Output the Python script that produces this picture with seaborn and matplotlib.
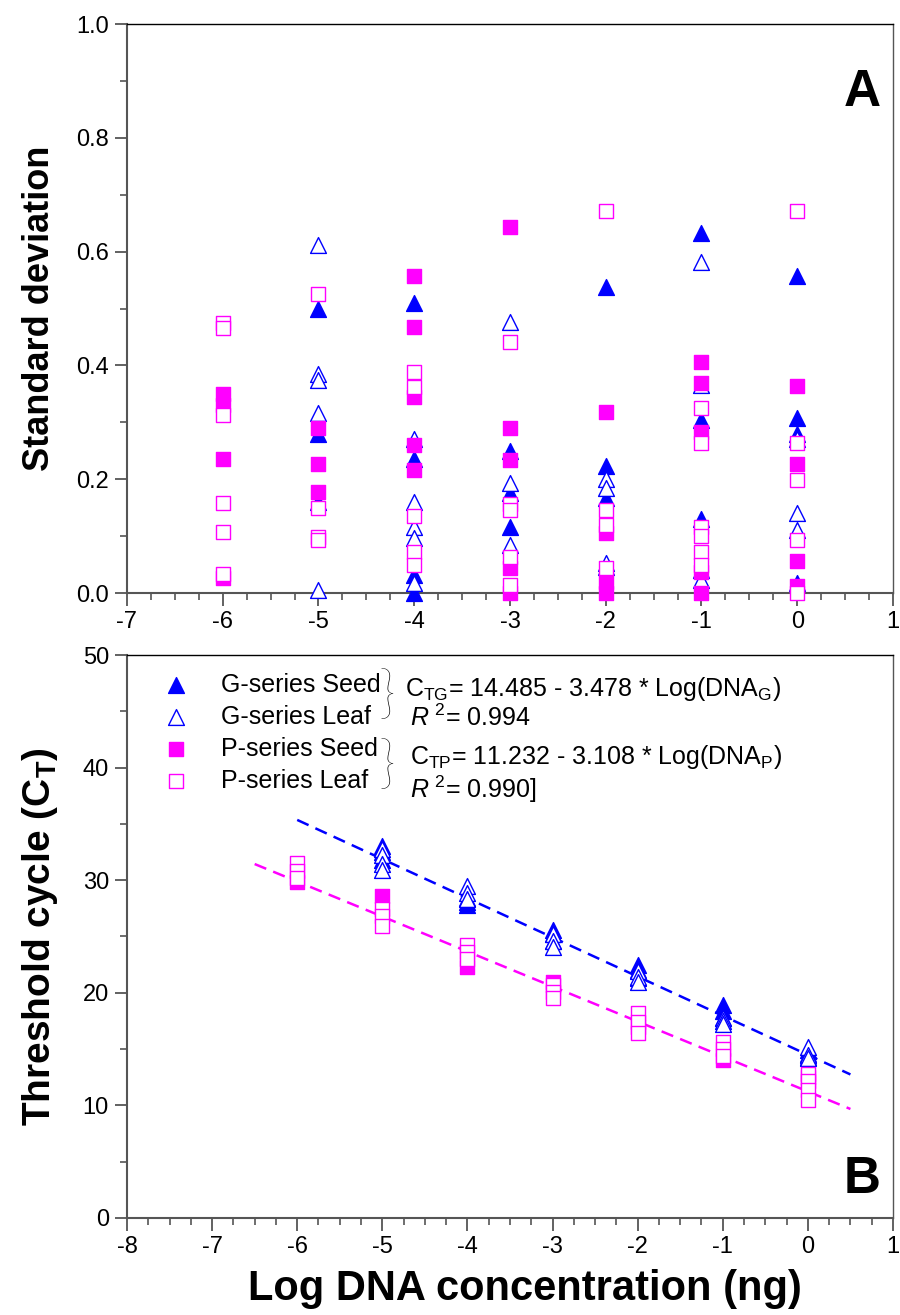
import numpy as np
import pandas as pd
import seaborn as sns
import matplotlib.pyplot as plt
from matplotlib.ticker import MultipleLocator

# ---- panel A: standard deviation of replicate Ct values ----
sd_g_seed = {
    -5: [0.50, 0.28, 0.16],
    -4: [0.51, 0.235, 0.032, 0.0],
    -3: [0.25, 0.176, 0.116],
    -2: [0.538, 0.223, 0.167, 0.045],
    -1: [0.632, 0.304, 0.13, 0.04],
    0: [0.557, 0.307, 0.28, 0.017],
}
sd_g_leaf = {
    -5: [0.612, 0.385, 0.375, 0.316, 0.005],
    -4: [0.27, 0.16, 0.116, 0.097, 0.018],
    -3: [0.476, 0.193, 0.084],
    -2: [0.20, 0.185, 0.052],
    -1: [0.582, 0.365, 0.023],
    0: [0.27, 0.14, 0.11],
}
sd_p_seed = {
    -6: [0.35, 0.33, 0.235, 0.027],
    -5: [0.29, 0.227, 0.178],
    -4: [0.557, 0.468, 0.345, 0.26, 0.216],
    -3: [0.643, 0.29, 0.234, 0.044, 0.0],
    -2: [0.318, 0.105, 0.02, 0.0],
    -1: [0.406, 0.369, 0.283, 0.037, 0.0],
    0: [0.364, 0.227, 0.056, 0.013],
}
sd_p_leaf = {
    -6: [0.475, 0.466, 0.313, 0.158, 0.107, 0.033],
    -5: [0.525, 0.15, 0.099, 0.093],
    -4: [0.389, 0.362, 0.135, 0.072, 0.049],
    -3: [0.441, 0.156, 0.146, 0.063, 0.014],
    -2: [0.671, 0.146, 0.12, 0.044],
    -1: [0.325, 0.264, 0.116, 0.10, 0.072, 0.049],
    0: [0.671, 0.264, 0.199, 0.093, 0.0],
}

# ---- panel B: threshold cycle vs log DNA ----
ct_g_seed = {
    -5: [33.0, 32.5, 31.8],
    -4: [28.4, 28.1, 27.8],
    -3: [25.6, 25.2, 24.6],
    -2: [22.5, 22.0, 21.3],
    -1: [18.9, 18.4, 17.8],
    0: [14.9, 14.6, 14.3],
}
ct_g_leaf = {
    -5: [32.8, 32.2, 31.4, 30.9],
    -4: [29.5, 28.9, 28.3],
    -3: [25.2, 24.6, 24.1],
    -2: [21.9, 21.4, 21.0],
    -1: [17.8, 17.5, 17.2],
    0: [15.2, 14.5, 14.2],
}
ct_p_seed = {
    -6: [29.8],
    -5: [28.6],
    -4: [22.3],
    -3: [21.0],
    -2: [17.0],
    -1: [14.0],
    0: [12.5],
}
ct_p_leaf = {
    -6: [31.5, 30.8, 30.2],
    -5: [27.4, 26.8, 25.9],
    -4: [24.2, 23.6, 23.0],
    -3: [20.7, 20.1, 19.5],
    -2: [18.2, 17.4, 16.4],
    -1: [15.6, 15.0, 14.4],
    0: [12.8, 12.2, 11.4, 10.5],
}

# fitted standard curves (intercept, slope, x-range)
fit_g = (14.485, -3.478, [-6.0, 0.5])
fit_p = (11.232, -3.108, [-6.5, 0.5])

series_names = ["G-series Seed", "G-series Leaf", "P-series Seed", "P-series Leaf"]

BLUE = "#0000FF"
MAGENTA = "#FF00FF"
styles = {
    "G-series Seed": dict(marker="^", color=BLUE, edgecolor=BLUE, s=130),
    "G-series Leaf": dict(marker="^", color="white", edgecolor=BLUE, s=130),
    "P-series Seed": dict(marker="s", color=MAGENTA, edgecolor=MAGENTA, s=100),
    "P-series Leaf": dict(marker="s", color="white", edgecolor=MAGENTA, s=100),
}


def to_long(groups, valname):
    rows = []
    for name, d in zip(series_names, groups):
        for x, vals in d.items():
            for v in vals:
                rows.append({"series": name, "logdna": x, valname: v})
    return pd.DataFrame(rows)


df_sd = to_long([sd_g_seed, sd_g_leaf, sd_p_seed, sd_p_leaf], "sd")
df_ct = to_long([ct_g_seed, ct_g_leaf, ct_p_seed, ct_p_leaf], "ct")

sns.set_style("ticks")
plt.rcParams["font.family"] = ["Liberation Sans", "DejaVu Sans"]
plt.rcParams["mathtext.fontset"] = "custom"
plt.rcParams["mathtext.rm"] = "Liberation Sans"
plt.rcParams["mathtext.it"] = "Liberation Sans:italic"
plt.rcParams["mathtext.bf"] = "Liberation Sans:bold"
plt.rcParams["mathtext.default"] = "regular"
plt.rcParams["axes.unicode_minus"] = False
plt.rcParams["text.color"] = "black"
plt.rcParams["axes.labelcolor"] = "black"

fig = plt.figure(figsize=(9, 13.15), dpi=100)
ax1 = fig.add_axes([0.1411, 0.5490, 0.8511, 0.4327])
ax2 = fig.add_axes([0.1411, 0.0738, 0.8511, 0.4281])

for name in series_names:
    st = styles[name]
    sns.scatterplot(data=df_sd[df_sd.series == name], x="logdna", y="sd",
                    linewidth=1.0, clip_on=False, zorder=3, ax=ax1, **st)
    sns.scatterplot(data=df_ct[df_ct.series == name], x="logdna", y="ct",
                    linewidth=1.0, clip_on=False, zorder=3, ax=ax2,
                    label=name, **st)

for (a, b, xr), col in [(fit_g, BLUE), (fit_p, MAGENTA)]:
    xs = np.array(xr)
    sns.lineplot(x=xs, y=a + b * xs, color=col, lw=1.8, ax=ax2, zorder=2)
    ax2.lines[-1].set_dashes((5, 3))

spine_col = "#555555"
for ax in (ax1, ax2):
    for sp in ax.spines.values():
        sp.set_visible(True)
        sp.set_color(spine_col)
        sp.set_linewidth(1.0)
    ax.spines["left"].set_linewidth(1.5)
    ax.spines["bottom"].set_linewidth(1.5)
    ax.spines["top"].set_color("black")
    ax.tick_params(which="major", direction="out", length=9, width=1.3,
                   color=spine_col, labelsize=17, pad=4, labelcolor="black")
    ax.tick_params(which="minor", direction="out", length=5, width=1.2,
                   color=spine_col)
    ax.tick_params(top=False, right=False, which="both")
    ax.xaxis.set_minor_locator(MultipleLocator(0.25))
    ax.xaxis.set_major_locator(MultipleLocator(1))

ax1.set_xlim(-7, 1)
ax1.set_ylim(0, 1.0)
ax1.yaxis.set_major_locator(MultipleLocator(0.2))
ax1.yaxis.set_minor_locator(MultipleLocator(0.1))
ax1.yaxis.set_major_formatter(plt.FormatStrFormatter("%.1f"))
ax1.set_xlabel("")
ax1.set_ylabel("Standard deviation", fontsize=26, fontweight="bold", labelpad=14)
ax1.text(0.96, 0.88, "A", transform=ax1.transAxes, fontsize=37,
         fontweight="bold", ha="center", va="center")

ax2.set_xlim(-8, 1)
ax2.set_ylim(0, 50)
ax2.yaxis.set_major_locator(MultipleLocator(10))
ax2.yaxis.set_minor_locator(MultipleLocator(5))
ax2.set_ylabel(r"Threshold cycle (C$_\mathbf{T}$)", fontsize=28,
               fontweight="bold", labelpad=16)
ax2.set_xlabel("Log DNA concentration (ng)", fontsize=30, fontweight="bold",
               labelpad=8)
ax2.xaxis.label.set_x(0.52)
ax2.text(0.96, 0.0675, "B", transform=ax2.transAxes, fontsize=37,
         fontweight="bold", ha="center", va="center")

leg = ax2.legend(loc="upper left", bbox_to_anchor=(0.008, 1.0), frameon=False,
                 fontsize=18, handletextpad=0.8, labelspacing=0.32,
                 borderaxespad=0.3, markerscale=1.0)

# braces and fitted equations
for yb in (46.3, 40.1):
    ax2.text(-4.95, yb, "}", fontsize=42, ha="center", va="center",
             family=["Lato", "Liberation Sans"], fontweight="light")
ax2.text(-4.73, 47.0, r"C$_{TG}$= 14.485 - 3.478 * Log(DNA$_{G}$)",
         fontsize=18, va="center")
ax2.text(-4.67, 44.4, r"$\mathit{R}^{\ 2}$= 0.994", fontsize=18, va="center")
ax2.text(-4.67, 40.9, r"C$_{TP}$= 11.232 - 3.108 * Log(DNA$_{P}$)",
         fontsize=18, va="center")
ax2.text(-4.67, 38.1, r"$\mathit{R}^{\ 2}$= 0.990]", fontsize=18, va="center")

fig.savefig("out.png", dpi=100)
